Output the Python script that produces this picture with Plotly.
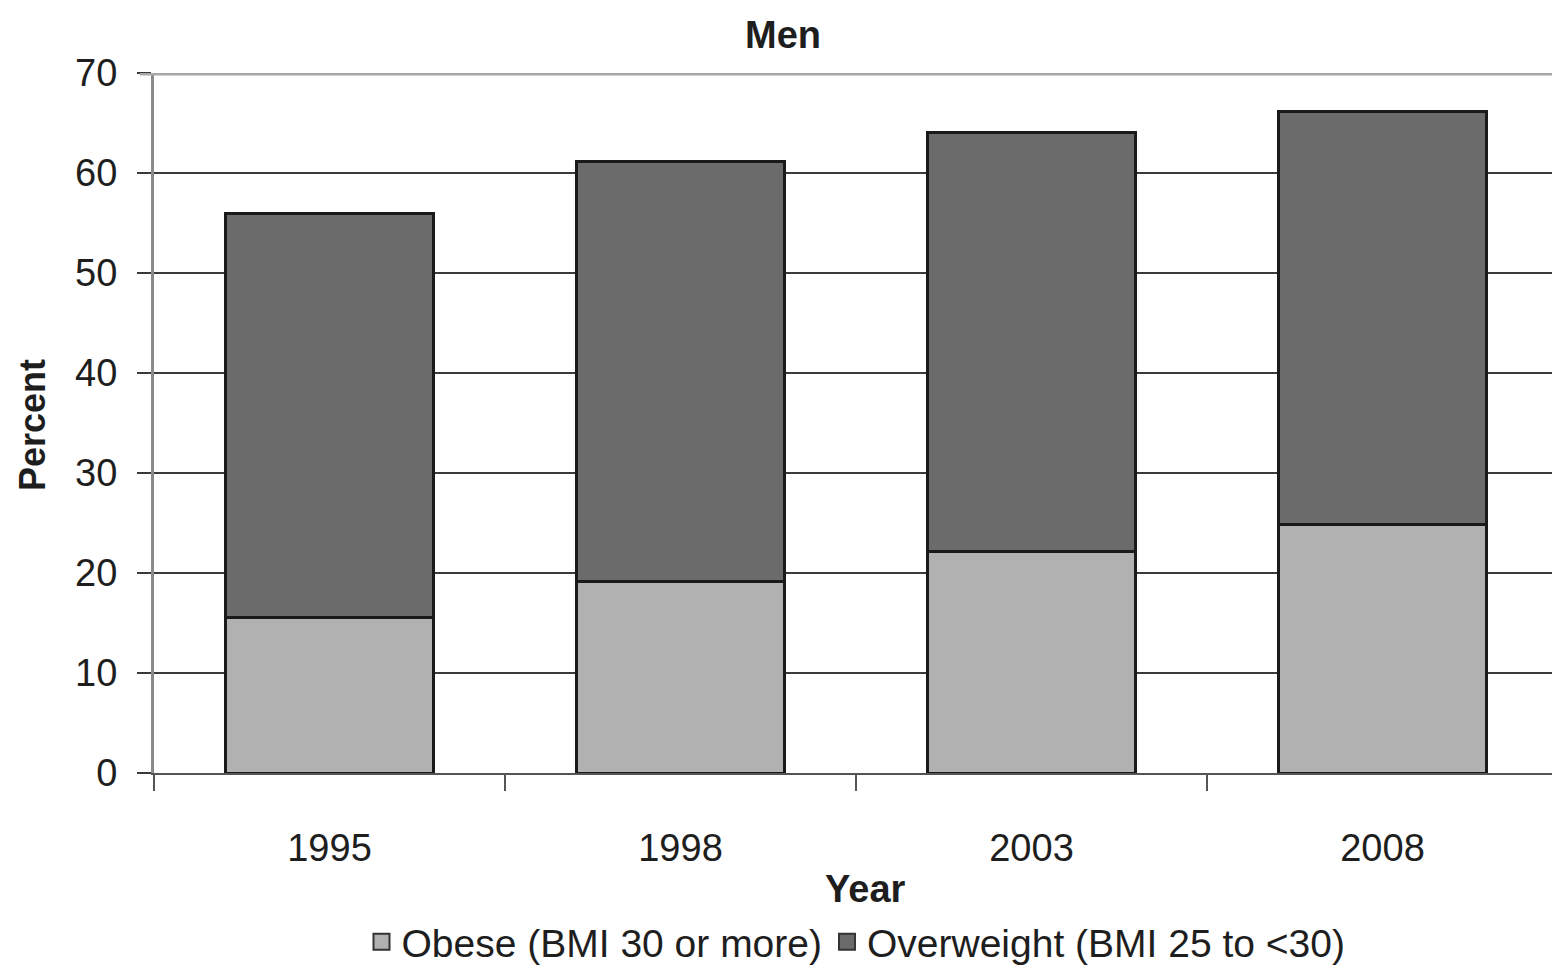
import plotly.graph_objects as go

years = ["1995", "1998", "2003", "2008"]
obese = [15.6, 19.2, 22.2, 24.9]
overweight = [40.4, 42.0, 41.9, 41.3]
y_ticks = [0, 10, 20, 30, 40, 50, 60, 70]
series_names = ["Obese (BMI 30 or more)", "Overweight (BMI 25 to <30)"]
series_colors = ["#b1b1b1", "#6b6b6b"]

FONT = "Liberation Sans, Arial, sans-serif"
TXT = "#1e1e1e"
EDGE = "#1a1a1a"

fig = go.Figure()
for vals, name, col in zip([obese, overweight], series_names, series_colors):
    fig.add_trace(go.Bar(
        x=years, y=vals, name=name, showlegend=False,
        marker=dict(color=col, line=dict(color=EDGE, width=3)),
    ))
# legend entries with larger square swatches
for name, col in zip(series_names, series_colors):
    fig.add_trace(go.Scatter(
        x=[None], y=[None], mode="markers", name=name,
        marker=dict(symbol="square", size=20, color=col, line=dict(color="#333333", width=2)),
    ))

fig.update_layout(
    barmode="stack",
    bargap=0.405,
    width=1552, height=969,
    margin=dict(l=146, r=2, t=65, b=204),
    paper_bgcolor="white", plot_bgcolor="white",
    font=dict(family=FONT, size=38, color=TXT),
    title=dict(text="<b>Men</b>", x=775 / 1552, xref="container", xanchor="center",
               y=1 - 27 / 969, yref="container", yanchor="middle",
               font=dict(family=FONT, size=38, color=TXT)),
    showlegend=True,
    legend=dict(orientation="h", x=0.5, xanchor="center",
                y=(773 - 942) / 700, yanchor="middle",
                font=dict(family=FONT, size=39, color=TXT),
                itemsizing="trace", traceorder="normal",
                tracegroupgap=0, itemwidth=30),
    xaxis=dict(
        type="category", showgrid=False, showline=True, linecolor="#555555", linewidth=2,
        ticks="outside", tickson="boundaries", ticklen=16, tickwidth=2, tickcolor="#555555",
        ticklabelstandoff=40, tickfont=dict(family=FONT, size=38, color=TXT),
        automargin=False, range=[-0.5, 3.5],
    ),
    yaxis=dict(
        range=[0, 70], tickvals=y_ticks, showgrid=True, gridcolor="#3a3a3a", gridwidth=2,
        showline=True, linecolor="#8a8a8a", linewidth=3, zeroline=False,
        ticks="outside", ticklen=14, tickwidth=2, tickcolor="#3a3a3a",
        ticklabelstandoff=12,
        tickfont=dict(family=FONT, size=38, color=TXT), automargin=False,
    ),
    annotations=[
        dict(text="<b>Percent</b>", xref="paper", yref="paper",
             x=(32 - 154) / 1404, y=(773 - 425) / 700, textangle=-90,
             showarrow=False, xanchor="center", yanchor="middle",
             font=dict(family=FONT, size=36, color=TXT)),
        dict(text="<b>Year</b>", xref="paper", yref="paper",
             x=(865 - 154) / 1404, y=(773 - 889) / 700,
             showarrow=False, xanchor="center", yanchor="middle",
             font=dict(family=FONT, size=38, color=TXT)),
    ],
    shapes=[
        dict(type="line", xref="paper", yref="y", x0=-0.01, x1=1, y0=70, y1=70,
             line=dict(color="#a8a8a8", width=5), layer="above"),
    ],
)

fig.write_html("out.html")
